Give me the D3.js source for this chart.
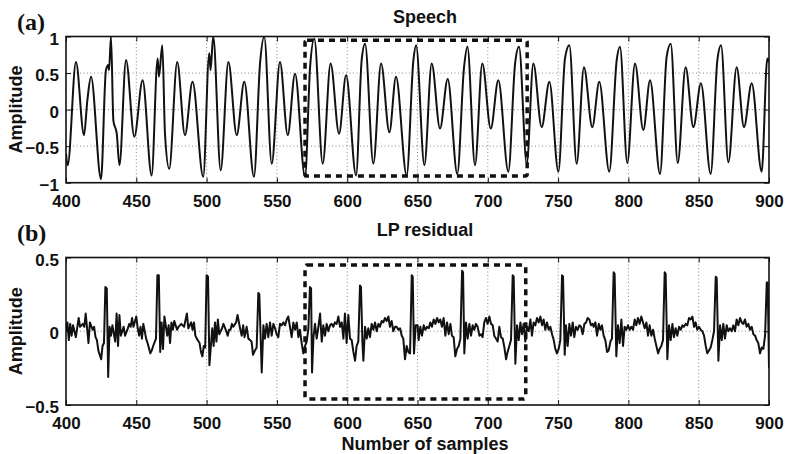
<!DOCTYPE html>
<html>
<head>
<meta charset="utf-8">
<script src="https://cdn.jsdelivr.net/npm/d3@7"></script>
<style>
  body { margin: 0; background: #fff; }
  svg { display: block; }
</style>
</head>
<body>
<div id="chart"></div>
<script>
// sample index / amplitude pairs
const speechPts = [[400,-0.60],[401.2,-0.76],[407.1,0.65],[412.8,-0.35],[415.2,0.13],[417.8,0.45],[424.9,-0.95],[428.4,0.54],[430.1,0.61],[430.6,0.54],[432,1.0],[433.7,-0.15],[436.1,-0.33],[438,-0.76],[442.7,0.68],[448.6,-0.37],[454.5,0.40],[460.9,-0.90],[465.2,0.70],[466.1,0.45],[468.5,0.88],[470.4,-0.33],[473.4,-0.81],[479.1,0.65],[484.6,-0.35],[490,0.38],[497.6,-0.92],[501.9,0.77],[502.8,0.54],[504.7,1.0],[510,-0.83],[515.5,0.65],[521.4,-0.35],[526.8,0.38],[533.7,-0.92],[538,0.63],[541,1.0],[546.3,-0.74],[552.2,0.65],[557.7,-0.35],[562.9,0.49],[570,-0.92],[573.6,0.58],[576.6,0.97],[582.6,-0.74],[588.2,0.63],[594.2,-0.33],[599.2,0.47],[606.3,-0.90],[610.3,0.68],[612.7,0.90],[618.6,-0.74],[624.1,0.63],[630,-0.31],[634.7,0.45],[642.3,-0.90],[647.1,0.68],[649,0.88],[654.9,-0.76],[660.1,0.63],[666,-0.26],[671.5,0.42],[678.3,-0.88],[683.1,0.58],[685.5,0.86],[690.9,-0.76],[696.1,0.63],[702.1,-0.26],[707.5,0.40],[714.6,-0.85],[719.4,0.63],[722.2,0.86],[727.7,-0.74],[732.4,0.63],[738.3,-0.24],[743.8,0.38],[750.2,-0.85],[754.9,0.70],[758,0.88],[763.2,-0.74],[768.4,0.58],[774.3,-0.24],[779.3,0.38],[786.4,-0.85],[791.7,0.68],[794,0.86],[799.2,-0.73],[804.7,0.63],[810.6,-0.28],[815.4,0.40],[822.5,-0.88],[827.2,0.72],[830.1,0.90],[835.1,-0.73],[840.7,0.58],[846.2,-0.24],[851.6,0.36],[858.5,-0.88],[863.3,0.68],[865.9,0.88],[871.1,-0.72],[877,0.58],[882.2,-0.24],[887.7,0.36],[894.8,-0.85],[898.8,0.70],[900,0.65]];

const residualPts = [[400,0.00],[401,0.06],[402,-0.06],[403,0.05],[404,-0.03],[405,0.04],[407,-0.04],[409,0.09],[410,0.03],[412,0.05],[413,0.03],[414,0.12],[416,-0.08],[417,0.06],[419,0.01],[420,0.03],[421,-0.04],[422,-0.06],[423,-0.13],[425,-0.19],[426,-0.10],[427,-0.08],[428,0.30],[429,0.29],[430,-0.31],[431,0.03],[432,-0.03],[433,0.04],[435,-0.07],[436,0.12],[437,-0.10],[438,0.11],[439,-0.03],[441,0.03],[442,-0.03],[444,0.02],[445,0.05],[446,0.03],[447,0.09],[448,0.03],[450,0.10],[451,0.02],[452,-0.03],[453,0.03],[454,-0.05],[455,0.05],[457,-0.05],[458,-0.08],[460,-0.15],[461,-0.13],[462,-0.10],[464,-0.05],[465,0.38],[466,0.38],[467,-0.14],[468,0.06],[469,-0.12],[470,0.10],[472,-0.03],[473,0.04],[474,-0.08],[475,0.06],[476,0.01],[477,0.07],[479,0.01],[480,0.03],[482,0.05],[483,0.04],[484,0.03],[486,0.12],[487,0.02],[489,0.06],[490,0.01],[491,0.06],[492,-0.03],[493,-0.05],[495,-0.08],[496,-0.14],[497,-0.17],[498,-0.10],[499,-0.11],[500,0.38],[501,0.37],[502,-0.23],[504,0.02],[505,-0.10],[506,0.06],[507,-0.07],[508,0.08],[509,-0.02],[511,0.02],[512,0.05],[514,0.00],[515,-0.03],[516,0.01],[517,0.01],[518,0.05],[519,0.03],[521,0.06],[522,0.11],[523,0.06],[524,0.01],
[525,-0.03],[526,0.04],[527,-0.04],[528.5,0.03],[529.7,-0.05],[531,-0.06],[532,-0.07],[533,-0.16],[534.4,-0.13],[535.6,-0.11],[536.8,0.26],[537.5,0.25],[539.2,-0.28],[540.4,0.04],[541.5,-0.05],[542.7,0.05],[543.9,-0.04],[545.1,0.06],[546.3,-0.03],[547.5,0.05],[548.7,0.02],[549.8,-0.02],[551,-0.04],[552.2,0.05],[553.4,0.04],[554.6,0.06],[555.8,0.04],[557,0.08],[558.1,0.10],[559.3,0.03],[560.5,-0.04],[561.7,0.06],[562.9,0.01],[564.1,0.06],[565.3,-0.04],[566.4,0.01],[567.6,-0.08],[568.8,-0.15],[570,-0.10],[571.2,-0.07],[572.4,0.02],[573.5,0.30],[574.3,0.29],[575,-0.28],[576,-0.04],[577.1,0.05],[578.3,-0.05],[579.5,0.03],[580.7,0.12],[581.9,-0.07],[583,0.04],[584.2,-0.03],[585.4,0.05],[586.6,0.00],[587.8,0.04],[589,0.05],[590.1,0.03],[591.3,0.06],[592.5,0.05],[593.7,0.10],[594.9,0.03],[596.1,0.06],[597.3,-0.05],[598.4,0.12],[599.6,-0.08],[600.8,0.11],[602,-0.05],[603.2,-0.06],[604.4,-0.14],[605.6,-0.20],[606.7,-0.10],[607.9,-0.07],[609.1,0.31],[609.8,0.30],[610.8,-0.07],[611.5,-0.20],[612.7,0.03],[613.9,-0.05],[615,0.02],[616.2,-0.04],[617.4,0.05],[618.6,0.01],[619.8,0.06],[621,0.00],[622.2,0.05],[623.3,0.03],[624.5,0.07],[625.7,0.06],[626.9,0.09],[628.1,0.07],[629.3,0.10],[630.4,0.03],[631.6,0.07],[632.8,0.00],[634,0.03],[635.2,0.03],[636.4,0.01],[637.6,0.02],[638.8,-0.03],[639.9,-0.05],[641.1,-0.19],[642.3,-0.10],[643.5,-0.14],[644.7,-0.15],[645.9,0.38],[646.6,0.37],[647.5,-0.15],[648.7,0.04],
[650.1,0.04],[650.8,-0.06],[652,0.03],[653.2,-0.03],[654.4,0.04],[655.6,0.01],[656.8,0.03],[658,0.02],[659.1,0.06],[660.3,0.03],[661.5,0.08],[662.7,0.05],[663.9,0.09],[665.1,0.06],[666.2,0.08],[667.4,0.03],[668.6,0.09],[669.8,-0.03],[671,0.06],[672.2,-0.02],[673.4,0.05],[674.5,-0.03],[675.7,-0.04],[676.9,-0.17],[678.1,-0.12],[679.3,-0.10],[680.5,-0.05],[681.7,0.41],[682.4,0.40],[683.3,-0.15],[684.5,0.06],[685.7,-0.05],[686.9,0.05],[688.1,-0.03],[689.2,0.04],[690.4,0.01],[691.6,0.05],[692.8,0.03],[694,-0.03],[695.2,-0.02],[696.3,-0.04],[697.5,0.06],[698.7,0.09],[699.9,0.05],[701.1,0.10],[702.3,0.05],[703.5,0.04],[704.6,-0.03],[705.8,-0.05],[707,-0.07],[708.2,0.03],[709.4,-0.04],[710.6,-0.05],[711.8,-0.11],[713,-0.19],[714.1,-0.14],[715.3,-0.10],[716.5,-0.06],[717.7,0.38],[718.4,0.37],[719.6,-0.22],[720.8,0.04],[722,-0.06],[723.2,0.06],[724.3,-0.02],[725.5,0.05],[726.7,-0.07],[727.9,0.03],[729.1,0.00],[730.3,0.08],[731.4,-0.03],[732.6,0.06],[733.8,0.04],[735,0.09],[736.2,0.06],[737.4,0.10],[738.6,0.04],[739.7,0.08],[740.9,0.01],[742.1,0.06],[743.3,0.01],[744.5,0.03],[745.7,-0.02],[746.9,-0.06],[748,-0.12],[749.2,-0.15],[750.4,-0.12],[751.6,-0.06],[752.8,0.38],[753.5,0.37],[754.7,-0.16],[755.6,0.04],[756.8,-0.10],[758,0.05],[759.2,-0.03],[760.4,0.06],[761.5,-0.04],[762.7,0.03],[763.9,0.01],[765.1,0.04],[766.3,0.03],[767.5,-0.02],[768.7,0.05],[769.9,0.06],[771,0.09],[772.2,0.08],[773.4,0.04],[774.6,0.05],
[775.3,0.03],[776.5,0.06],[777.7,-0.03],[778.9,0.05],[780,0.01],[781.2,0.04],[782.4,-0.03],[783.6,-0.06],[784.8,-0.14],[786,-0.13],[787.2,-0.07],[788.3,-0.05],[789.5,0.40],[790.2,0.39],[791.4,-0.17],[792.6,0.04],[793.8,-0.08],[795,0.08],[796.2,-0.10],[797.3,0.03],[798.5,0.01],[799.7,0.04],[800.9,0.01],[802.1,0.03],[803.3,0.01],[804.5,0.08],[805.6,0.04],[806.8,0.09],[808,0.05],[809.2,0.10],[810.4,0.06],[811.6,0.02],[812.8,0.06],[813.9,-0.03],[815.1,0.04],[816.3,-0.03],[817.5,0.01],[818.7,-0.05],[819.9,-0.10],[821.1,-0.15],[822.2,-0.12],[823.4,-0.10],[824.6,-0.06],[825.8,0.40],[826.5,0.39],[827.7,-0.19],[828.9,0.04],[830.1,-0.06],[831.3,0.05],[832.4,-0.04],[833.6,0.02],[834.8,-0.03],[836,0.03],[837.2,0.01],[838.4,0.04],[839.5,0.03],[840.7,0.05],[841.9,0.04],[843.1,0.09],[844.3,0.08],[845.5,0.10],[846.7,0.03],[847.8,0.06],[849,0.01],[850.2,0.03],[851.4,0.01],[852.6,0.00],[853.8,-0.03],[855,-0.10],[856.1,-0.15],[857.3,-0.13],[858.5,-0.11],[859.7,-0.06],[860.9,0.00],[862.1,0.37],[862.8,0.36],[864,-0.20],[865.2,0.04],[866.4,-0.06],[867.5,0.05],[868.7,-0.05],[869.9,0.04],[871.1,0.00],[872.3,0.02],[873.5,0.00],[874.6,0.04],[875.8,0.00],[877,0.08],[878.2,0.04],[879.4,0.09],[880.6,0.06],[881.8,0.05],[882.9,0.08],[884.1,0.03],[885.3,0.05],[886.5,0.01],[887.7,0.03],[888.9,-0.02],[890.1,-0.03],[891.2,-0.06],[892.4,-0.08],[893.6,-0.15],[894.8,-0.11],[896,-0.12],[897.2,-0.03],[898.4,0.33],[899.1,0.33],[900,-0.25]];

const xTicks = [400, 450, 500, 550, 600, 650, 700, 750, 800, 850, 900];
const speechYTicks = [-1, -0.5, 0, 0.5, 1];
const residualYTicks = [-0.5, 0, 0.5];
// highlighted region [x0, x1, y0, y1] in data units
const speechBox = [570, 728, -0.91, 0.95];
const residualBox = [570, 727, -0.46, 0.45];

const width = 785, height = 454;
const left = 66, right = 769;

const svg = d3.select("#chart").append("svg")
    .attr("width", width)
    .attr("height", height)
    .style("font-family", "'Liberation Sans', Arial, Helvetica, sans-serif");

svg.append("rect").attr("width", width).attr("height", height).attr("fill", "#fff");

const xScale = d3.scaleLinear().domain([400, 900]).range([left, right]);

function drawPanel(opt) {
    const y = d3.scaleLinear().domain(opt.yDomain).range([opt.bottom, opt.top]);
    const g = svg.append("g");

    g.append("clipPath").attr("id", opt.id + "-clip")
        .append("rect")
        .attr("x", left).attr("y", opt.top)
        .attr("width", right - left).attr("height", opt.bottom - opt.top);

    // dotted grid
    g.append("g").selectAll("line")
        .data(xTicks.slice(1, -1))
        .join("line")
        .attr("x1", d => xScale(d)).attr("x2", d => xScale(d))
        .attr("y1", opt.top).attr("y2", opt.bottom)
        .attr("stroke", "#8a8a8a").attr("stroke-width", 1)
        .attr("stroke-dasharray", "1,2.5");
    g.append("g").selectAll("line")
        .data(opt.yTicks.slice(1, -1))
        .join("line")
        .attr("x1", left).attr("x2", right)
        .attr("y1", d => y(d)).attr("y2", d => y(d))
        .attr("stroke", "#8a8a8a").attr("stroke-width", 1)
        .attr("stroke-dasharray", "1,2.5");

    // signal
    const line = d3.line()
        .x(d => xScale(d[0]))
        .y(d => y(d[1]))
        .curve(opt.curve);
    g.append("path")
        .datum(opt.data)
        .attr("clip-path", `url(#${opt.id}-clip)`)
        .attr("fill", "none")
        .attr("stroke", "#111")
        .attr("stroke-width", 2)
        .attr("stroke-linejoin", "round")
        .attr("d", line);

    // dashed box
    const b = opt.box;
    g.append("rect")
        .attr("x", xScale(b[0])).attr("y", y(b[3]))
        .attr("width", xScale(b[1]) - xScale(b[0]))
        .attr("height", y(b[2]) - y(b[3]))
        .attr("rx", 2)
        .attr("fill", "none")
        .attr("stroke", "#111")
        .attr("stroke-width", 3.5)
        .attr("stroke-dasharray", "6,5");

    // axes (inward ticks, MATLAB style)
    const xAxis = g.append("g")
        .attr("transform", `translate(0,${opt.bottom})`)
        .call(d3.axisBottom(xScale).tickValues(xTicks).tickSize(-5).tickPadding(12).tickFormat(d3.format("d")));
    g.append("g")
        .attr("transform", `translate(0,${opt.top})`)
        .call(d3.axisTop(xScale).tickValues(xTicks).tickSize(-5).tickFormat(""));
    const yAxis = g.append("g")
        .attr("transform", `translate(${left},0)`)
        .call(d3.axisLeft(y).tickValues(opt.yTicks).tickSize(-5).tickPadding(7).tickFormat(d3.format("~g")));
    g.append("g")
        .attr("transform", `translate(${right},0)`)
        .call(d3.axisRight(y).tickValues(opt.yTicks).tickSize(-5).tickFormat(""));

    g.selectAll(".domain").remove();
    g.selectAll(".tick line").attr("stroke", "#111").attr("stroke-width", 1);
    xAxis.selectAll("text").attr("font-size", "17px").attr("font-weight", "bold").attr("fill", "#111");
    yAxis.selectAll("text").attr("font-size", "17px").attr("font-weight", "bold").attr("fill", "#111")
        .attr("dy", "0.45em");

    g.append("rect")
        .attr("x", left).attr("y", opt.top)
        .attr("width", right - left).attr("height", opt.bottom - opt.top)
        .attr("fill", "none").attr("stroke", "#111").attr("stroke-width", 1.6);

    // labels
    g.append("text")
        .attr("x", 425).attr("y", opt.titleY)
        .attr("text-anchor", "middle")
        .attr("font-size", "18px").attr("font-weight", "bold").attr("fill", "#111")
        .text(opt.title);
    g.append("text")
        .attr("transform", `translate(22,${(opt.top + opt.bottom) / 2}) rotate(-90)`)
        .attr("text-anchor", "middle")
        .attr("font-size", "18px").attr("font-weight", "bold").attr("fill", "#111")
        .text("Amplitude");
    g.append("text")
        .attr("x", 17).attr("y", opt.tagY)
        .attr("font-family", "'Liberation Serif', 'Times New Roman', serif")
        .attr("font-size", "24px").attr("font-weight", "bold").attr("fill", "#111")
        .text(opt.tag);
}

drawPanel({
    id: "speech", data: speechPts, curve: d3.curveMonotoneX,
    yDomain: [-1, 1], yTicks: speechYTicks, top: 36.5, bottom: 182.7,
    box: speechBox, title: "Speech", titleY: 23, tag: "(a)", tagY: 30
});

drawPanel({
    id: "residual", data: residualPts, curve: d3.curveLinear,
    yDomain: [-0.5, 0.5], yTicks: residualYTicks, top: 257.5, bottom: 405,
    box: residualBox, title: "LP residual", titleY: 236, tag: "(b)", tagY: 241
});

svg.append("text")
    .attr("x", 425).attr("y", 450)
    .attr("text-anchor", "middle")
    .attr("font-size", "18px").attr("font-weight", "bold").attr("fill", "#111")
    .text("Number of samples");
</script>
</body>
</html>
